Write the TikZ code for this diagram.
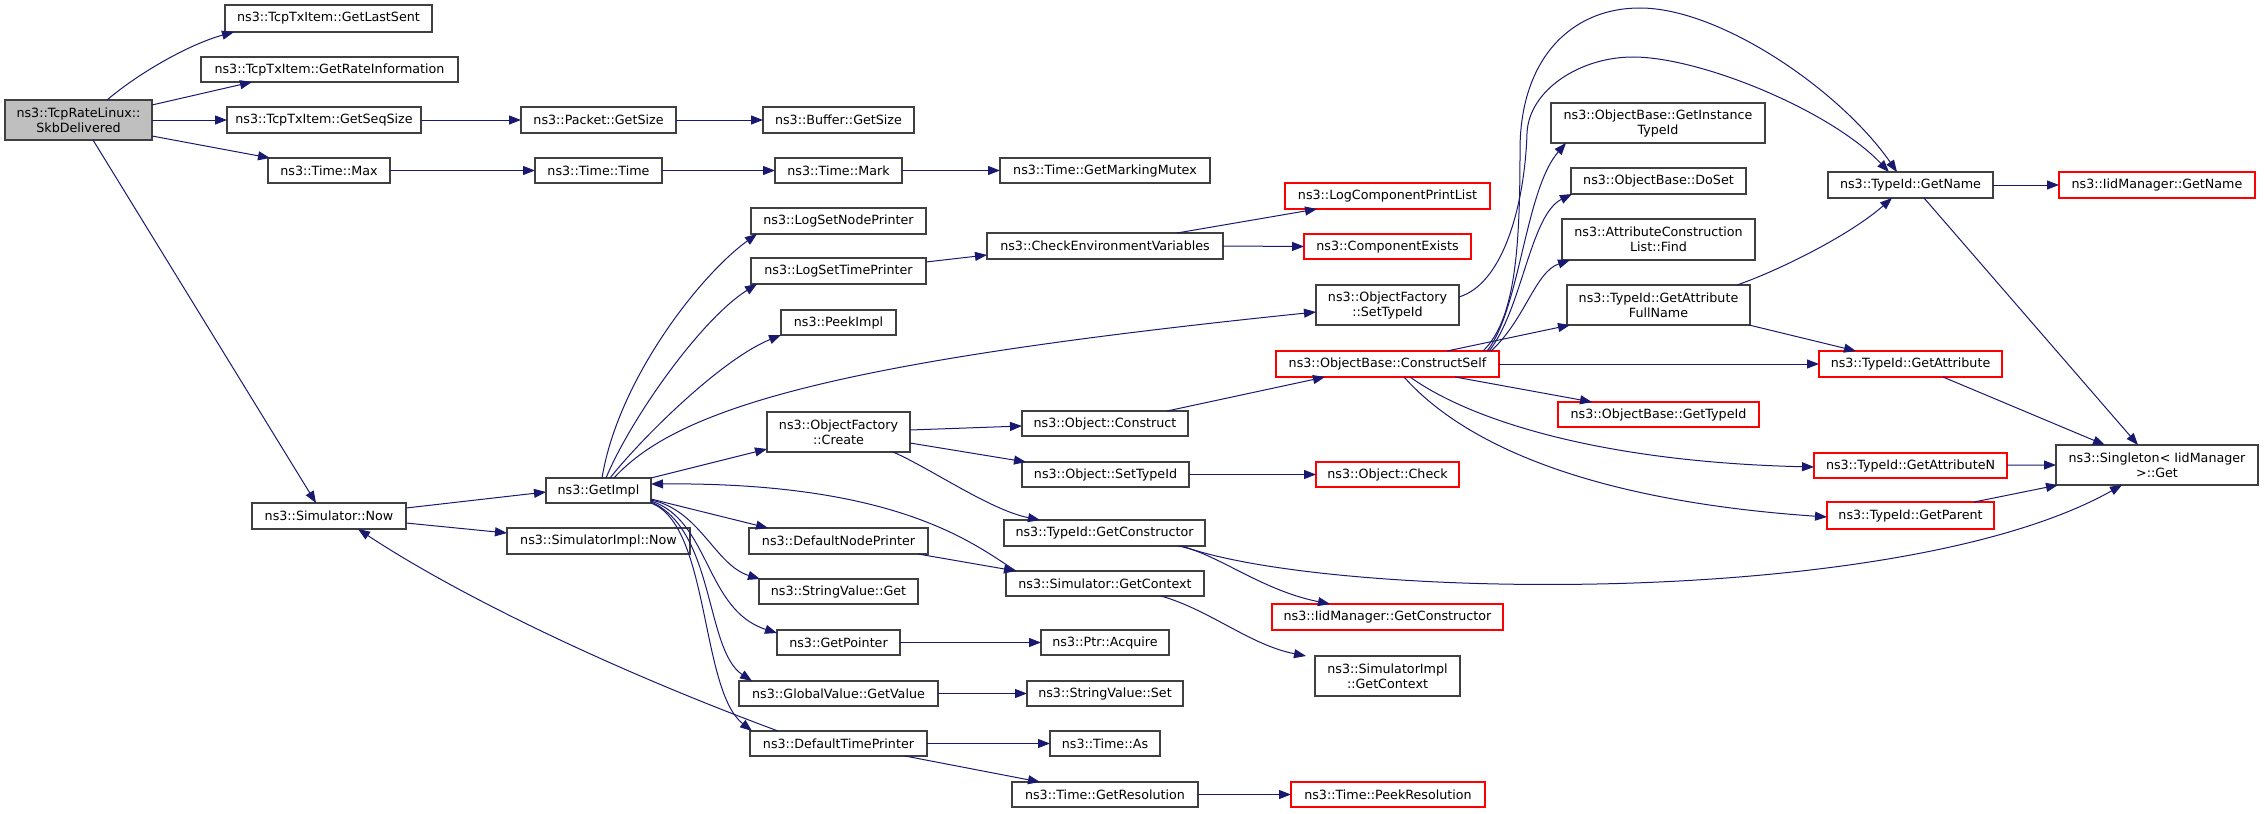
\documentclass[tikz,border=0pt]{standalone}
\usepackage{fontspec}
\setmainfont{DejaVu Sans}
\usetikzlibrary{arrows.meta,calc}
\definecolor{edgec}{HTML}{191970}
\definecolor{bordc}{HTML}{404040}
\definecolor{rootc}{HTML}{BFBFBF}
\newcommand\fs{\fontsize{12.7bp}{15bp}\selectfont}
\makeatletter
\newcommand\mybox[7]{%
  \expandafter\xdef\csname bxa@#1\endcsname{#2}%
  \expandafter\xdef\csname bxb@#1\endcsname{#3}%
  \pgfmathsetmacro\qW{#4-#2}\pgfmathsetmacro\qH{#5-#3}%
  \pgfmathsetmacro\qX{(#2+#4)/2}\pgfmathsetmacro\qY{(#3+#5)/2}%
  \node[#7,minimum width=\qW bp,minimum height=\qH bp] (#1) at (\qX,\qY) {#6};}
\newcommand\edgeL[6]{%
  \pgfmathsetmacro\qAx{#2-\csname bxa@#1\endcsname}%
  \pgfmathsetmacro\qAy{#3-\csname bxb@#1\endcsname}%
  \pgfmathsetmacro\qBx{#5-\csname bxa@#4\endcsname}%
  \pgfmathsetmacro\qBy{#6-\csname bxb@#4\endcsname}%
  \draw[e] ($(#1.north west)+(\qAx,\qAy)$) -- ($(#4.north west)+(\qBx,\qBy)$);}
\newcommand\edgeC[7]{%
  \pgfmathsetmacro\qAx{#2-\csname bxa@#1\endcsname}%
  \pgfmathsetmacro\qAy{#3-\csname bxb@#1\endcsname}%
  \pgfmathsetmacro\qBx{#6-\csname bxa@#5\endcsname}%
  \pgfmathsetmacro\qBy{#7-\csname bxb@#5\endcsname}%
  \draw[e] ($(#1.north west)+(\qAx,\qAy)$) .. controls #4 .. ($(#5.north west)+(\qBx,\qBy)$);}
\makeatother
\begin{document}
\begin{tikzpicture}[x=1bp,y=-1bp,
  nb/.style={draw=bordc,line width=1.2bp,fill=white,inner sep=0pt,outer sep=0pt,align=center,font=\fs},
  rb/.style={nb,draw=red},
  rt/.style={nb,fill=rootc},
  e/.style={draw=edgec,line width=1bp,-{Triangle[length=12bp,width=9bp]}}]
\useasboundingbox (0,0) rectangle (2264,813);
% nodes
\mybox{skb}{5}{100}{152}{140}{ns3::TcpRateLinux::\\SkbDelivered}{rt}
\mybox{lastsent}{225}{5}{432}{32}{ns3::TcpTxItem::GetLastSent}{nb}
\mybox{rateinfo}{201}{57}{458}{82}{ns3::TcpTxItem::GetRateInformation}{nb}
\mybox{seqsize}{227}{107}{421}{133}{ns3::TcpTxItem::GetSeqSize}{nb}
\mybox{tmax}{268}{158}{390}{183}{ns3::Time::Max}{nb}
\mybox{simnow}{252}{503}{406}{529}{ns3::Simulator::Now}{nb}
\mybox{pktsize}{521}{107}{676}{133}{ns3::Packet::GetSize}{nb}
\mybox{bufsize}{763}{107}{914}{133}{ns3::Buffer::GetSize}{nb}
\mybox{ttime}{535}{158}{662}{183}{ns3::Time::Time}{nb}
\mybox{tmark}{775}{158}{902}{183}{ns3::Time::Mark}{nb}
\mybox{mutex}{1000}{158}{1210}{183}{ns3::Time::GetMarkingMutex}{nb}
\mybox{lsnp}{751}{208}{926}{234}{ns3::LogSetNodePrinter}{nb}
\mybox{checkenv}{987}{233}{1223}{259}{ns3::CheckEnvironmentVariables}{nb}
\mybox{lstp}{751}{258}{926}{284}{ns3::LogSetTimePrinter}{nb}
\mybox{peek}{781}{310}{896}{335}{ns3::PeekImpl}{nb}
\mybox{create}{767}{412}{910}{452}{ns3::ObjectFactory\\::Create}{nb}
\mybox{getimpl}{546}{478}{651}{503}{ns3::GetImpl}{nb}
\mybox{simimplnow}{507}{528}{690}{554}{ns3::SimulatorImpl::Now}{nb}
\mybox{dnp}{749}{528}{928}{554}{ns3::DefaultNodePrinter}{nb}
\mybox{getctor}{1004}{520}{1205}{546}{ns3::TypeId::GetConstructor}{nb}
\mybox{construct}{1022}{411}{1188}{436}{ns3::Object::Construct}{nb}
\mybox{osettid}{1022}{462}{1189}{487}{ns3::Object::SetTypeId}{nb}
\mybox{svget}{759}{579}{918}{604}{ns3::StringValue::Get}{nb}
\mybox{getptr}{777}{630}{900}{655}{ns3::GetPointer}{nb}
\mybox{gvget}{739}{681}{938}{706}{ns3::GlobalValue::GetValue}{nb}
\mybox{dtp}{750}{731}{927}{756}{ns3::DefaultTimePrinter}{nb}
\mybox{simctx}{1006}{571}{1204}{596}{ns3::Simulator::GetContext}{nb}
\mybox{acquire}{1041}{630}{1169}{655}{ns3::Ptr::Acquire}{nb}
\mybox{svset}{1027}{681}{1183}{706}{ns3::StringValue::Set}{nb}
\mybox{tas}{1050}{731}{1160}{756}{ns3::Time::As}{nb}
\mybox{getres}{1012}{782}{1198}{807}{ns3::Time::GetResolution}{nb}
\mybox{instid}{1551}{103}{1765}{143}{ns3::ObjectBase::GetInstance\\TypeId}{nb}
\mybox{doset}{1571}{168}{1746}{194}{ns3::ObjectBase::DoSet}{nb}
\mybox{find}{1562}{219}{1755}{260}{ns3::AttributeConstruction\\List::Find}{nb}
\mybox{lcpl}{1285}{183}{1490}{209}{ns3::LogComponentPrintList}{rb}
\mybox{compex}{1304}{234}{1471}{259}{ns3::ComponentExists}{rb}
\mybox{ofsettid}{1316}{285}{1459}{325}{ns3::ObjectFactory\\::SetTypeId}{nb}
\mybox{cself}{1276}{351}{1499}{377}{ns3::ObjectBase::ConstructSelf}{rb}
\mybox{attrfull}{1567}{285}{1750}{325}{ns3::TypeId::GetAttribute\\FullName}{nb}
\mybox{obgettid}{1558}{402}{1759}{427}{ns3::ObjectBase::GetTypeId}{rb}
\mybox{check}{1316}{462}{1459}{487}{ns3::Object::Check}{rb}
\mybox{iidctor}{1272}{604}{1503}{630}{ns3::IidManager::GetConstructor}{rb}
\mybox{implctx}{1315}{656}{1460}{696}{ns3::SimulatorImpl\\::GetContext}{nb}
\mybox{peekres}{1291}{782}{1485}{807}{ns3::Time::PeekResolution}{rb}
\mybox{getname}{1828}{172}{1993}{198}{ns3::TypeId::GetName}{nb}
\mybox{iidname}{2059}{172}{2255}{198}{ns3::IidManager::GetName}{rb}
\mybox{getattr}{1819}{351}{2002}{377}{ns3::TypeId::GetAttribute}{rb}
\mybox{getattrn}{1814}{453}{2007}{478}{ns3::TypeId::GetAttributeN}{rb}
\mybox{getparent}{1827}{502}{1994}{529}{ns3::TypeId::GetParent}{rb}
\mybox{singleton}{2056}{445}{2258}{485}{ns3::Singleton< IidManager\\>::Get}{nb}
% edges
\edgeC{skb}{107}{100}{(140,72) and (190,44)}{lastsent}{234}{32}
\edgeL{skb}{152}{105}{rateinfo}{252}{82}
\draw[e] (skb.east) -- (seqsize.west);
\edgeL{skb}{152}{136}{tmax}{270}{158}
\edgeL{skb}{93}{140}{simnow}{316}{503}
\draw[e] (seqsize.east) -- (pktsize.west);
\draw[e] (pktsize.east) -- (bufsize.west);
\draw[e] (tmax.east) -- (ttime.west);
\draw[e] (ttime.east) -- (tmark.west);
\draw[e] (tmark.east) -- (mutex.west);
\edgeL{simnow}{406}{508}{getimpl}{546}{492}
\edgeL{simnow}{406}{523}{simimplnow}{507}{533}
\edgeC{dtp}{778}{731}{(600,665) and (450,590)}{simnow}{358}{529}
\edgeC{getimpl}{602}{478}{(618,380) and (700,275)}{lsnp}{757}{234}
\edgeC{getimpl}{606}{478}{(630,420) and (700,320)}{lstp}{757}{284}
\edgeC{getimpl}{610}{478}{(640,440) and (720,360)}{peek}{781}{335}
\edgeC{getimpl}{614}{478}{(680,405) and (850,360)}{ofsettid}{1316}{312}
\edgeL{getimpl}{651}{478}{create}{767}{449}
\edgeC{simctx}{1016}{571}{(975,545) and (900,482)}{getimpl}{651}{484}
\edgeL{getimpl}{651}{499}{dnp}{768}{528}
\edgeC{getimpl}{651}{500}{(700,510) and (715,565)}{svget}{760}{579}
\edgeC{getimpl}{651}{501}{(710,520) and (705,610)}{getptr}{777}{633}
\edgeC{getimpl}{651}{502}{(715,530) and (705,650)}{gvget}{752}{681}
\edgeC{getimpl}{651}{503}{(710,525) and (700,690)}{dtp}{752}{731}
\edgeL{create}{910}{430}{construct}{1022}{426}
\edgeL{create}{910}{443}{osettid}{1026}{462}
\edgeC{create}{893}{452}{(930,468) and (990,510)}{getctor}{1040}{520}
\edgeL{construct}{1167}{411}{cself}{1325}{377}
\draw[e] (osettid.east) -- (check.west);
\edgeC{getctor}{1178}{546}{(1215,552) and (1260,590)}{iidctor}{1330}{604}
\edgeC{getctor}{1182}{546}{(1330,600) and (1900,610)}{singleton}{2122}{485}
\edgeC{simctx}{1161}{596}{(1210,610) and (1250,645)}{implctx}{1306}{656}
\draw[e] (getptr.east) -- (acquire.west);
\draw[e] (gvget.east) -- (svset.west);
\draw[e] (dtp.east) -- (tas.west);
\edgeL{dtp}{905}{756}{getres}{1040}{782}
\draw[e] (getres.east) -- (peekres.west);
\edgeL{lstp}{926}{262}{checkenv}{987}{255}
\edgeL{checkenv}{1177}{233}{lcpl}{1317}{209}
\draw[e] (checkenv.east) -- (compex.west);
\edgeC{ofsettid}{1459}{297}{(1505,283) and (1525,200) .. (1527,133) .. controls (1529,90) and (1580,57) .. (1633,57) .. controls (1700,57) and (1830,110)}{getname}{1889}{172}
\edgeC{cself}{1483}{351}{(1515,320) and (1520,250) .. (1520,150) .. controls (1520,60) and (1570,8) .. (1640,8) .. controls (1720,8) and (1840,90)}{getname}{1897}{172}
\edgeC{cself}{1487}{351}{(1520,310) and (1525,190)}{instid}{1566}{143}
\edgeC{cself}{1489}{351}{(1522,310) and (1530,215)}{doset}{1572}{194}
\edgeC{cself}{1491}{351}{(1525,320) and (1535,272)}{find}{1570}{260}
\edgeL{cself}{1447}{351}{attrfull}{1570}{325}
\edgeL{cself}{1499}{364}{getattr}{1819}{364}
\edgeL{cself}{1455}{377}{obgettid}{1592}{402}
\edgeC{cself}{1410}{377}{(1470,420) and (1600,462)}{getattrn}{1814}{467}
\edgeC{cself}{1404}{377}{(1460,440) and (1580,500)}{getparent}{1827}{517}
\edgeC{attrfull}{1737}{285}{(1780,270) and (1850,235)}{getname}{1892}{198}
\edgeL{attrfull}{1749}{325}{getattr}{1856}{351}
\draw[e] (getname.east) -- (iidname.west);
\edgeL{getname}{1924}{198}{singleton}{2138}{445}
\edgeL{getattr}{1943}{377}{singleton}{2105}{445}
\edgeL{getattrn}{2007}{465}{singleton}{2056}{465}
\edgeL{getparent}{1974}{502}{singleton}{2058}{485}
\edgeL{dnp}{918}{554}{simctx}{1016}{571}
\end{tikzpicture}
\end{document}
